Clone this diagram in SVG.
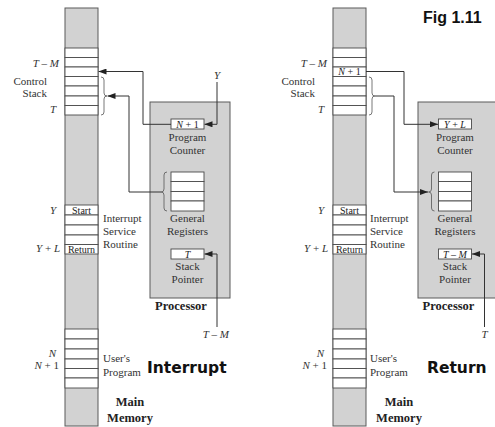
<svg xmlns="http://www.w3.org/2000/svg" width="495" height="427" viewBox="0 0 495 427">
<defs>
<style>
.mem{fill:#d2d2d2;stroke:#5a5a5a;stroke-width:1}
.row{fill:#fff;stroke:#4a4a4a;stroke-width:0.9}
.proc{fill:#d2d2d2;stroke:#5a5a5a;stroke-width:1}
.t{font-family:"Liberation Serif","Times New Roman",serif;font-size:11px;fill:#333}
.s{font-family:"Liberation Serif","Times New Roman",serif;font-size:10px;fill:#222}
.b{font-family:"Liberation Serif","Times New Roman",serif;font-size:12.5px;font-weight:bold;fill:#222}
.i{font-style:italic}
.big{font-family:"DejaVu Sans",sans-serif;font-size:15.5px;font-weight:bold;fill:#111}
.fig{font-family:"Liberation Sans",Arial,sans-serif;font-size:16px;font-weight:bold;fill:#111}
.ln{fill:none;stroke:#333;stroke-width:1}
.br{fill:none;stroke:#555;stroke-width:0.8}
</style>
<marker id="ah" viewBox="0 0 8 6" refX="8" refY="3" markerWidth="8" markerHeight="6" markerUnits="userSpaceOnUse" orient="auto">
<path d="M0,0 L8,3 L0,6 z" fill="#222"/>
</marker>
</defs>
<rect width="495" height="427" fill="#fff"/>

<!-- LEFT: Interrupt -->
<g id="memory-left">
<rect class="mem" x="65" y="8" width="33" height="418"/>
<rect class="row" x="65" y="48" width="33" height="9.5"/>
<rect class="row" x="65" y="57.5" width="33" height="9.5"/>
<rect class="row" x="65" y="67" width="33" height="9.5"/>
<rect class="row" x="65" y="76.5" width="33" height="9.5"/>
<rect class="row" x="65" y="86" width="33" height="10"/>
<rect class="row" x="65" y="96" width="33" height="9.5"/>
<rect class="row" x="65" y="105.5" width="33" height="9.5"/>
<rect class="row" x="65" y="205" width="33" height="10"/>
<rect class="row" x="65" y="215" width="33" height="10"/>
<rect class="row" x="65" y="225" width="33" height="10"/>
<rect class="row" x="65" y="235" width="33" height="9.5"/>
<rect class="row" x="65" y="244.5" width="33" height="9.5"/>
<rect class="row" x="65" y="329" width="33" height="10"/>
<rect class="row" x="65" y="339" width="33" height="10"/>
<rect class="row" x="65" y="349" width="33" height="10"/>
<rect class="row" x="65" y="359" width="33" height="9.5"/>
<rect class="row" x="65" y="368.5" width="33" height="9.5"/>
<rect class="row" x="65" y="378" width="33" height="10"/>
<text class="s" x="81.5" y="213.5" text-anchor="middle">Start</text>
<text class="s" x="81.5" y="252.5" text-anchor="middle">Return</text>
<path class="br" d="M101,77 Q104,77 104,80 L104,93 Q104,96 107,96 Q104,96 104,99 L104,112 Q104,115 101,115"/>
<text class="t" x="59" y="67" text-anchor="end"><tspan class="i">T</tspan> – <tspan class="i">M</tspan></text>
<text class="t" x="47" y="84.5" text-anchor="end">Control</text>
<text class="t" x="47" y="97" text-anchor="end">Stack</text>
<text class="t i" x="56" y="113" text-anchor="end">T</text>
<text class="t i" x="56" y="213.5" text-anchor="end">Y</text>
<text class="t" x="60" y="252" text-anchor="end"><tspan class="i">Y</tspan> + <tspan class="i">L</tspan></text>
<text class="t i" x="56" y="356.5" text-anchor="end">N</text>
<text class="t" x="59" y="369" text-anchor="end"><tspan class="i">N</tspan> + 1</text>
<text class="t" x="103" y="222">Interrupt</text>
<text class="t" x="103" y="235">Service</text>
<text class="t" x="103" y="248">Routine</text>
<text class="t" x="103" y="362">User's</text>
<text class="t" x="103" y="375.5">Program</text>
<text class="b" x="130" y="406" text-anchor="middle">Main</text>
<text class="b" x="130" y="422" text-anchor="middle">Memory</text>
</g>

<g id="processor-left">
<rect class="proc" x="150" y="102" width="80" height="196"/>
<rect class="row" x="171" y="119" width="33" height="10"/>
<text class="s" x="187.5" y="127.5" text-anchor="middle"><tspan class="i">N</tspan> + 1</text>
<text class="t" x="187.5" y="141" text-anchor="middle">Program</text>
<text class="t" x="187.5" y="154" text-anchor="middle">Counter</text>
<rect class="row" x="171" y="172" width="33" height="9.5"/>
<rect class="row" x="171" y="181.5" width="33" height="10"/>
<rect class="row" x="171" y="191.5" width="33" height="9.5"/>
<rect class="row" x="171" y="201" width="33" height="10"/>
<path class="br" d="M167,172 Q164,172 164,175 L164,189 Q164,192 161,192 Q164,192 164,195 L164,208 Q164,211 167,211"/>
<text class="t" x="187.5" y="221.5" text-anchor="middle">General</text>
<text class="t" x="187.5" y="235" text-anchor="middle">Registers</text>
<rect class="row" x="171" y="249" width="33" height="10"/>
<text class="s i" x="187.5" y="257.5" text-anchor="middle">T</text>
<text class="t" x="187.5" y="270" text-anchor="middle">Stack</text>
<text class="t" x="187.5" y="283" text-anchor="middle">Pointer</text>
<text class="b" x="181" y="310" text-anchor="middle">Processor</text>
</g>

<g id="connectors-left">
<path class="ln" d="M171,124.3 H143 V71.5 H98.5" marker-end="url(#ah)"/>
<path class="ln" d="M161,192 H129 V96 H107.5" marker-end="url(#ah)"/>
<path class="ln" d="M217,82 V124.3 H204.5" marker-end="url(#ah)"/>
<path class="ln" d="M217,327 V254 H204.5" marker-end="url(#ah)"/>
<text class="t i" x="217" y="79" text-anchor="middle">Y</text>
<text class="t" x="229" y="337.5" text-anchor="end"><tspan class="i">T</tspan> – <tspan class="i">M</tspan></text>
</g>

<text id="label-interrupt" class="big" x="147" y="372.7">Interrupt</text>

<!-- RIGHT: Return -->
<g id="memory-right">
<rect class="mem" x="333" y="8" width="33" height="418"/>
<rect class="row" x="333" y="48" width="33" height="9.5"/>
<rect class="row" x="333" y="57.5" width="33" height="9.5"/>
<rect class="row" x="333" y="67" width="33" height="9.5"/>
<rect class="row" x="333" y="76.5" width="33" height="9.5"/>
<rect class="row" x="333" y="86" width="33" height="10"/>
<rect class="row" x="333" y="96" width="33" height="9.5"/>
<rect class="row" x="333" y="105.5" width="33" height="9.5"/>
<rect class="row" x="333" y="205" width="33" height="10"/>
<rect class="row" x="333" y="215" width="33" height="10"/>
<rect class="row" x="333" y="225" width="33" height="10"/>
<rect class="row" x="333" y="235" width="33" height="9.5"/>
<rect class="row" x="333" y="244.5" width="33" height="9.5"/>
<rect class="row" x="333" y="329" width="33" height="10"/>
<rect class="row" x="333" y="339" width="33" height="10"/>
<rect class="row" x="333" y="349" width="33" height="10"/>
<rect class="row" x="333" y="359" width="33" height="9.5"/>
<rect class="row" x="333" y="368.5" width="33" height="9.5"/>
<rect class="row" x="333" y="378" width="33" height="10"/>
<text class="s" x="349.5" y="75" text-anchor="middle"><tspan class="i">N</tspan> + 1</text>
<text class="s" x="349.5" y="213.5" text-anchor="middle">Start</text>
<text class="s" x="349.5" y="252.5" text-anchor="middle">Return</text>
<path class="br" d="M369,77 Q372,77 372,80 L372,93 Q372,96 375,96 Q372,96 372,99 L372,112 Q372,115 369,115"/>
<text class="t" x="327" y="67" text-anchor="end"><tspan class="i">T</tspan> – <tspan class="i">M</tspan></text>
<text class="t" x="315" y="84.5" text-anchor="end">Control</text>
<text class="t" x="315" y="97" text-anchor="end">Stack</text>
<text class="t i" x="324" y="113" text-anchor="end">T</text>
<text class="t i" x="324" y="213.5" text-anchor="end">Y</text>
<text class="t" x="328" y="252" text-anchor="end"><tspan class="i">Y</tspan> + <tspan class="i">L</tspan></text>
<text class="t i" x="324" y="356.5" text-anchor="end">N</text>
<text class="t" x="327" y="369" text-anchor="end"><tspan class="i">N</tspan> + 1</text>
<text class="t" x="370" y="222">Interrupt</text>
<text class="t" x="370" y="235">Service</text>
<text class="t" x="370" y="248">Routine</text>
<text class="t" x="370" y="362">User's</text>
<text class="t" x="370" y="375.5">Program</text>
<text class="b" x="399" y="406" text-anchor="middle">Main</text>
<text class="b" x="399" y="422" text-anchor="middle">Memory</text>
</g>

<g id="processor-right">
<rect class="proc" x="418" y="102" width="80" height="196"/>
<rect class="row" x="438.5" y="119" width="33" height="10"/>
<text class="s" x="455" y="127.5" text-anchor="middle"><tspan class="i">Y</tspan> + <tspan class="i">L</tspan></text>
<text class="t" x="455" y="141" text-anchor="middle">Program</text>
<text class="t" x="455" y="154" text-anchor="middle">Counter</text>
<rect class="row" x="438.5" y="172" width="33" height="9.5"/>
<rect class="row" x="438.5" y="181.5" width="33" height="10"/>
<rect class="row" x="438.5" y="191.5" width="33" height="9.5"/>
<rect class="row" x="438.5" y="201" width="33" height="10"/>
<path class="br" d="M434.5,172 Q431.5,172 431.5,175 L431.5,189 Q431.5,192 428.5,192 Q431.5,192 431.5,195 L431.5,208 Q431.5,211 434.5,211"/>
<text class="t" x="455" y="221.5" text-anchor="middle">General</text>
<text class="t" x="455" y="235" text-anchor="middle">Registers</text>
<rect class="row" x="438.5" y="249" width="33" height="10"/>
<text class="s" x="455" y="257.5" text-anchor="middle"><tspan class="i">T</tspan> – <tspan class="i">M</tspan></text>
<text class="t" x="455" y="270" text-anchor="middle">Stack</text>
<text class="t" x="455" y="283" text-anchor="middle">Pointer</text>
<text class="b" x="448.5" y="310" text-anchor="middle">Processor</text>
</g>

<g id="connectors-right">
<path class="ln" d="M366,71.5 H404 V124.3 H438" marker-end="url(#ah)"/>
<path class="ln" d="M375,96 H394 V192 H428" marker-end="url(#ah)"/>
<path class="ln" d="M484.5,327 V254 H472" marker-end="url(#ah)"/>
<text class="t i" x="484.5" y="337.5" text-anchor="middle">T</text>
</g>

<text id="label-return" class="big" x="427" y="372.5">Return</text>
<text id="label-fig" class="fig" x="423" y="23">Fig 1.11</text>
</svg>
